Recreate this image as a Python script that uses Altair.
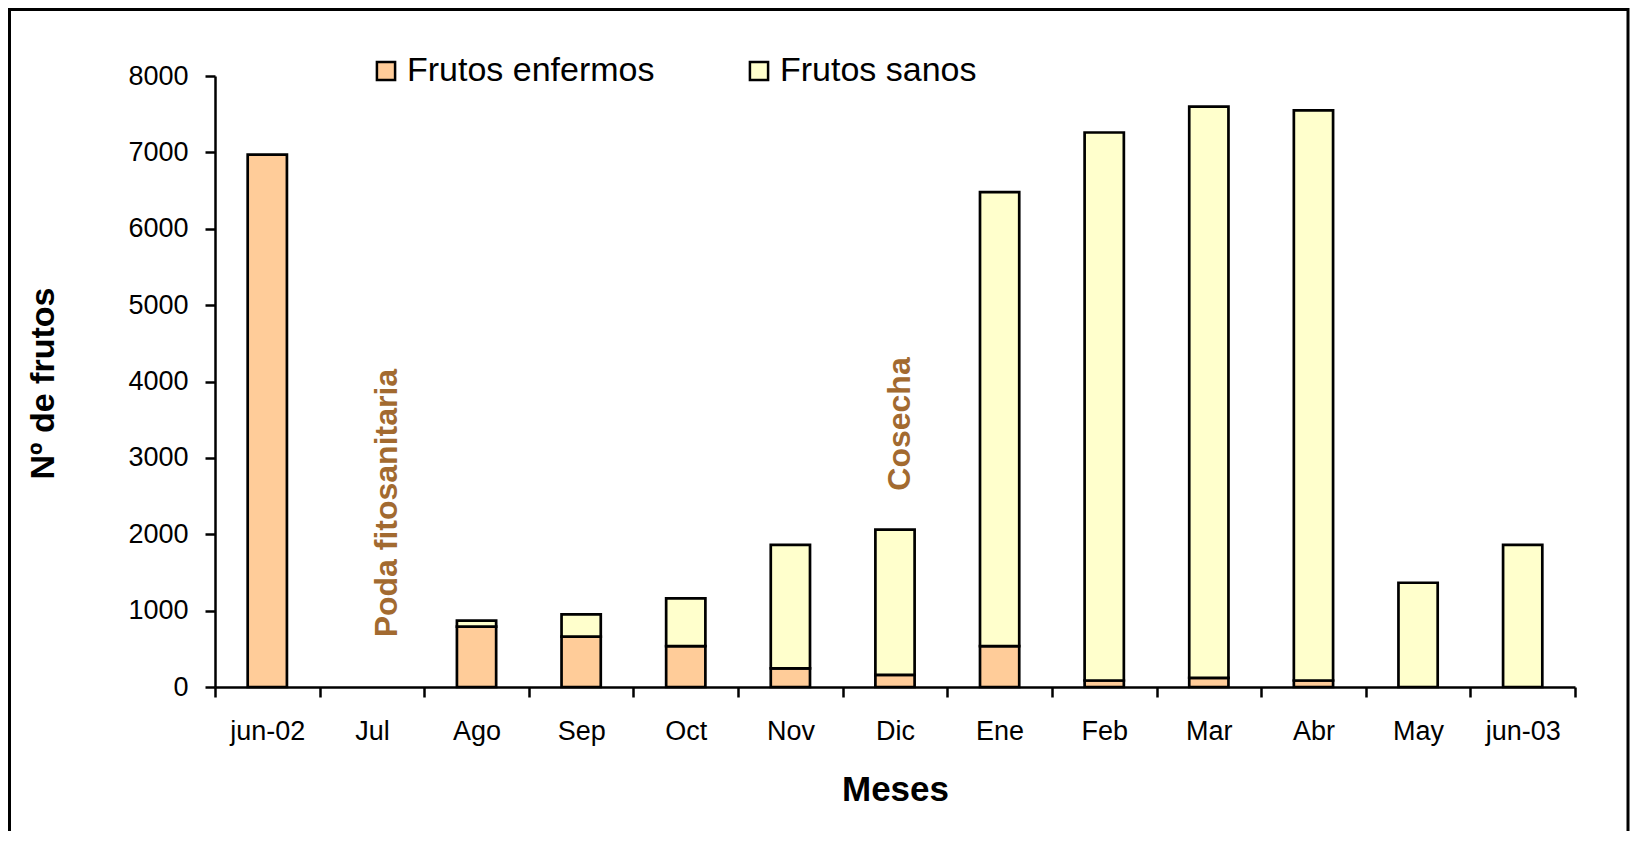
import altair as alt
import pandas as pd

# ---- data ----
meses = ["jun-02", "Jul", "Ago", "Sep", "Oct", "Nov", "Dic",
         "Ene", "Feb", "Mar", "Abr", "May", "jun-03"]
enfermos = [6970, 0, 790, 660, 535, 245, 160, 535, 85, 120, 85, 0, 0]
sanos = [0, 0, 80, 290, 625, 1615, 1900, 5945, 7175, 7480, 7465, 1365, 1860]
series = ["Frutos enfermos", "Frutos sanos"]
colores = ["#FFCC99", "#FFFFCC"]
y_ticks = [0, 1000, 2000, 3000, 4000, 5000, 6000, 7000, 8000]

ann_text = ["Poda fitosanitaria", "Cosecha"]
ann_mes = ["Jul", "Dic"]
ann_valor = [650, 2570]
ann_dy = [15, 5]

FONT = "Liberation Sans"

rows = []
for i, m in enumerate(meses):
    for j, vals in enumerate([enfermos, sanos]):
        if vals[i] > 0:
            rows.append({"mes": m, "serie": series[j], "orden": j, "valor": vals[i]})
df = pd.DataFrame(rows)

ann = pd.DataFrame({"mes": ann_mes, "valor": ann_valor, "txt": ann_text})

x_enc = alt.X(
    "mes:N", sort=meses,
    scale=alt.Scale(domain=meses, paddingInner=0, paddingOuter=0),
    axis=alt.Axis(
        title="Meses", tickBand="extent", labelAngle=0,
        labelFont=FONT, labelFontSize=27, labelColor="black", labelPadding=21,
        tickSize=10, tickWidth=2.5, tickColor="black",
        domainColor="black", domainWidth=2.5,
        titleFont=FONT, titleFontSize=35, titleFontWeight="bold", titleColor="black",
        titleY=113, titleBaseline="alphabetic", grid=False,
    ),
)
y_enc = alt.Y(
    "valor:Q", stack="zero",
    scale=alt.Scale(domain=[0, 8000], nice=False),
    axis=alt.Axis(
        values=y_ticks, format="d", title="Nº de frutos",
        labelFont=FONT, labelFontSize=27, labelColor="black", labelPadding=17,
        tickSize=10, tickWidth=2.5, tickColor="black",
        domainColor="black", domainWidth=2.5, grid=False,
        titleFont=FONT, titleFontSize=34, titleFontWeight="bold", titleColor="black",
        titleAngle=270, titleX=-172, titleY=307, titleAlign="center", titleBaseline="middle",
    ),
)

bars = alt.Chart(df).mark_bar(
    stroke="black", strokeWidth=2.7, width=alt.RelativeBandSize(0.375)
).encode(
    x=x_enc,
    y=y_enc,
    color=alt.Color(
        "serie:N",
        scale=alt.Scale(domain=series, range=colores),
        legend=alt.Legend(
            title=None, orient="none", legendX=154, legendY=-22,
            direction="horizontal", symbolType="square", symbolSize=330,
            symbolStrokeColor="black", symbolStrokeWidth=2.5,
            labelFont=FONT, labelFontSize=34, labelColor="black",
            labelOffset=4, columnPadding=87, labelLimit=500,
        ),
    ),
    order=alt.Order("orden:Q"),
)

notes = alt.layer(*[
    alt.Chart(ann.iloc[[k]]).mark_text(
        angle=270, align="left", baseline="middle", dy=int(ann_dy[k]),
        font=FONT, fontSize=32, fontWeight="bold", color="#A26A30",
    ).encode(x=alt.X("mes:N", sort=meses), y=alt.Y("valor:Q"), text="txt:N")
    for k in range(len(ann_text))
])

frame = alt.Chart(pd.DataFrame({"k": [0]})).mark_rect(
    fill="white", fillOpacity=0, stroke="black", strokeWidth=3
).encode(
    x=alt.value(-205.5), x2=alt.value(1413),
    y=alt.value(-66.5), y2=alt.value(900),
)

chart = alt.layer(bars, notes, frame).properties(
    width=1360, height=611,
    padding={"left": 207, "top": 68, "right": 55, "bottom": 144},
    autosize=alt.AutoSizeParams(type="none"),
    background="white",
).configure_view(stroke=None)

chart.save("out.html", embed_options={"renderer": "svg", "actions": False})
